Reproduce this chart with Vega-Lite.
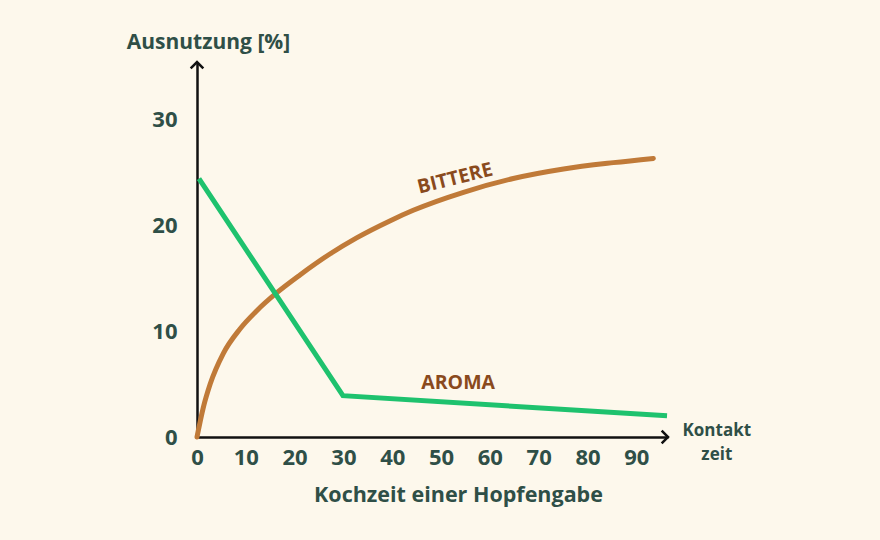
{
  "$schema": "https://vega.github.io/schema/vega-lite/v6.json",
  "width": 471,
  "height": 375,
  "autosize": {"type": "none"},
  "padding": {"left": 197, "top": 62, "right": 212, "bottom": 103},
  "background": "#fdf8ec",
  "config": {
    "view": {"stroke": null},
    "font": "Open Sans",
    "axis": {"labelFont": "Open Sans", "titleFont": "Open Sans"}
  },
  "datasets": {
    "bitter": [
      {"zeit": 0, "nutzung": 0},
      {"zeit": 1.3, "nutzung": 2.8},
      {"zeit": 2.7, "nutzung": 5.0},
      {"zeit": 5.4, "nutzung": 7.9},
      {"zeit": 8.8, "nutzung": 10.2},
      {"zeit": 12.2, "nutzung": 11.9},
      {"zeit": 16.3, "nutzung": 13.6},
      {"zeit": 21.1, "nutzung": 15.3},
      {"zeit": 27.3, "nutzung": 17.3},
      {"zeit": 32.7, "nutzung": 18.8},
      {"zeit": 39.5, "nutzung": 20.4},
      {"zeit": 44.3, "nutzung": 21.4},
      {"zeit": 54.6, "nutzung": 23.1},
      {"zeit": 64.8, "nutzung": 24.4},
      {"zeit": 75.1, "nutzung": 25.3},
      {"zeit": 85.3, "nutzung": 25.9},
      {"zeit": 93.5, "nutzung": 26.3}
    ],
    "aroma": [
      {"zeit": 0.4, "nutzung": 24.4},
      {"zeit": 29.9, "nutzung": 3.9},
      {"zeit": 96.3, "nutzung": 2.0}
    ],
    "labels": [
      {"label": "BITTERE", "zeit": 52.9, "nutzung": 24.4, "kind": "bitter"},
      {"label": "AROMA", "zeit": 53.5, "nutzung": 5.1, "kind": "aroma"}
    ],
    "kontakt": [
      {"label": "Kontakt", "zeit": 106.5, "nutzung": 0.6},
      {"label": "zeit", "zeit": 106.5, "nutzung": -1.7}
    ],
    "arrows": [
      {"richtung": "rechts", "zeit": 96.5, "nutzung": 0},
      {"richtung": "oben", "zeit": 0, "nutzung": 35.4}
    ]
  },
  "encoding": {
    "x": {
      "field": "zeit", "type": "quantitative",
      "scale": {"domain": [0, 96.5], "nice": false, "zero": false},
      "axis": {
        "values": [0, 10, 20, 30, 40, 50, 60, 70, 80, 90],
        "title": "Kochzeit einer Hopfengabe",
        "titleX": 261, "titleY": 58, "titleAlign": "center", "titleBaseline": "middle",
        "titleFontSize": 21.5, "titleFontWeight": "bold", "titleColor": "#2f4f47",
        "labelFontSize": 22, "labelFontWeight": "bold", "labelColor": "#2f4f47",
        "labelPadding": 10, "ticks": false, "grid": false,
        "domainColor": "#111111", "domainWidth": 2.5, "labelFlush": false, "labelOverlap": false
      }
    },
    "y": {
      "field": "nutzung", "type": "quantitative",
      "scale": {"domain": [0, 35.4], "nice": false, "zero": false},
      "axis": {
        "values": [0, 10, 20, 30],
        "title": "Ausnutzung [%]",
        "titleAngle": 0, "titleX": 11, "titleY": -20, "titleAlign": "center", "titleBaseline": "middle",
        "titleFontSize": 21, "titleFontWeight": "bold", "titleColor": "#2f4f47",
        "labelFontSize": 22, "labelFontWeight": "bold", "labelColor": "#2f4f47",
        "labelPadding": 20, "ticks": false, "grid": false,
        "domainColor": "#111111", "domainWidth": 2.5, "labelFlush": false, "labelOverlap": false
      }
    }
  },
  "layer": [
    {
      "data": {"name": "bitter"},
      "mark": {"type": "line", "interpolate": "monotone", "strokeWidth": 5, "strokeCap": "round", "color": "#c07a38", "clip": false}
    },
    {
      "data": {"name": "aroma"},
      "mark": {"type": "line", "interpolate": "linear", "strokeWidth": 5, "strokeCap": "butt", "color": "#1ec26e", "clip": false}
    },
    {
      "data": {"name": "labels"},
      "transform": [{"filter": "datum.kind == 'bitter'"}],
      "mark": {"type": "text", "fontSize": 19.5, "fontWeight": "bold", "color": "#8a4a1d", "angle": 346, "align": "center", "baseline": "middle", "clip": false},
      "encoding": {"text": {"field": "label"}}
    },
    {
      "data": {"name": "labels"},
      "transform": [{"filter": "datum.kind == 'aroma'"}],
      "mark": {"type": "text", "fontSize": 19.5, "fontWeight": "bold", "color": "#8a4a1d", "align": "center", "baseline": "middle", "clip": false},
      "encoding": {"text": {"field": "label"}}
    },
    {
      "data": {"name": "kontakt"},
      "mark": {"type": "text", "fontSize": 17, "fontWeight": "bold", "color": "#2f4f47", "align": "center", "baseline": "middle", "clip": false},
      "encoding": {"text": {"field": "label"}}
    },
    {
      "data": {"name": "arrows"},
      "mark": {"type": "point", "filled": false, "opacity": 1, "stroke": "#111111", "strokeWidth": 2.5, "size": 160, "clip": false},
      "encoding": {
        "shape": {
          "field": "richtung", "type": "nominal",
          "scale": {"domain": ["rechts", "oben"], "range": ["M-1,-1L0,0L-1,1", "M-1,1L0,0L1,1"]},
          "legend": null
        }
      }
    }
  ]
}
